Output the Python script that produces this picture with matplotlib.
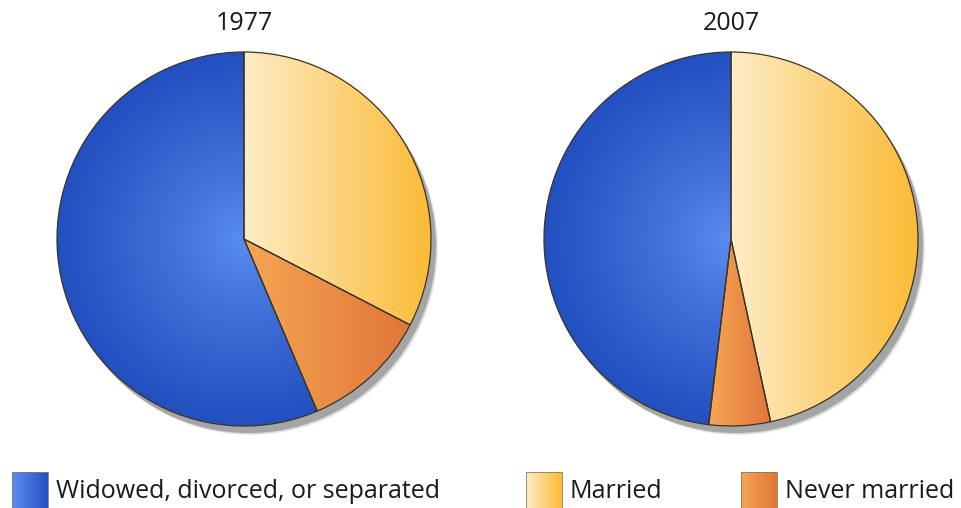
import matplotlib
matplotlib.use('Agg')
import matplotlib.pyplot as plt
import numpy as np
from matplotlib.patches import Circle, Rectangle
from matplotlib.colors import to_rgb

plt.rcParams['font.family'] = ['Open Sans', 'DejaVu Sans']

# ---- data ----
years = ['1977', '2007']
categories = ['Married', 'Never married', 'Widowed, divorced, or separated']
share_1977 = [32.6, 11.0, 56.4]
share_2007 = [46.6, 5.3, 48.1]
legend_order = ['Widowed, divorced, or separated', 'Married', 'Never married']

# ---- styling ----
W, H = 961, 508
centers = [(244, H - 239), (731, H - 239)]
R = 187
edge = '#3a3326'

grad = {
    'Married': ('linear', '#feecc6', '#fbbb35'),
    'Never married': ('linear', '#f5a653', '#e1763a'),
    'Widowed, divorced, or separated': ('radial', '#5c8ff2', '#2350c0'),
}


def gradient_image(kind, c0, c1, x0, x1, y0, y1, cx=None, cy=None, n=300):
    c0 = np.array(to_rgb(c0)); c1 = np.array(to_rgb(c1))
    xs = np.linspace(x0, x1, n)
    ys = np.linspace(y0, y1, n)
    X, Y = np.meshgrid(xs, ys)
    if kind == 'linear':
        t = (X - x0) / max(x1 - x0, 1e-9)
    else:
        t = np.sqrt((X - cx) ** 2 + (Y - cy) ** 2) / R
        t = np.clip(t, 0, 1) ** 0.8
    img = c0[None, None, :] * (1 - t[..., None]) + c1[None, None, :] * t[..., None]
    return img


fig = plt.figure(figsize=(W / 100, H / 100), dpi=100)
ax = fig.add_axes([0, 0, 1, 1])

for year, shares, (cx, cy) in zip(years, [share_1977, share_2007], centers):
    # soft shadow
    for k, a in zip([9, 8, 7], [0.2, 0.35, 1.0]):
        ax.add_patch(Circle((cx + k - 2, cy - k), R, facecolor='#a5a5a5', alpha=a,
                            edgecolor='none', zorder=1))
    wedges, _ = ax.pie(shares, startangle=90, counterclock=False, center=(cx, cy),
                       radius=R, wedgeprops=dict(edgecolor=edge, linewidth=0.9,
                                                 facecolor='none'))
    for w, cat in zip(wedges, categories):
        w.set_zorder(4)
        kind, c0, c1 = grad[cat]
        bb = w.get_path().get_extents(w.get_patch_transform())
        if kind == 'linear':
            x0, x1 = bb.x0, bb.x1
            y0, y1 = cy - R, cy + R
        else:
            x0, x1, y0, y1 = cx - R, cx + R, cy - R, cy + R
        img = gradient_image(kind, c0, c1, x0, x1, y0, y1, cx, cy)
        im = ax.imshow(img, extent=(x0, x1, y0, y1), origin='lower',
                       interpolation='bilinear', zorder=3)
        im.set_clip_path(w)
    ax.text(cx, H - 24, year, ha='center', va='center', fontsize=18, color='#1a1a1a')

# legend
legend_x = [12, 526, 741]
for cat, lx in zip(legend_order, legend_x):
    kind, c0, c1 = grad[cat]
    if kind == 'radial':
        c0, c1 = '#5c8ff2', '#2350c0'
    x0, x1, y0, y1 = lx, lx + 36, -2, 36
    img = gradient_image('linear', c0, c1, x0, x1, y0, y1)
    ax.imshow(img, extent=(x0, x1, y0, y1), origin='lower', interpolation='bilinear', zorder=3)
    ax.add_patch(Rectangle((x0, y0), 36, 38, facecolor='none', edgecolor='#8a7a60',
                           linewidth=0.6, zorder=4))
    ax.text(lx + 44, 10, cat, ha='left', va='baseline', fontsize=18, color='#1a1a1a')

ax.set_xlim(0, W)
ax.set_ylim(0, H)
ax.set_aspect('auto')
ax.axis('off')
fig.savefig('out.png', dpi=100)
